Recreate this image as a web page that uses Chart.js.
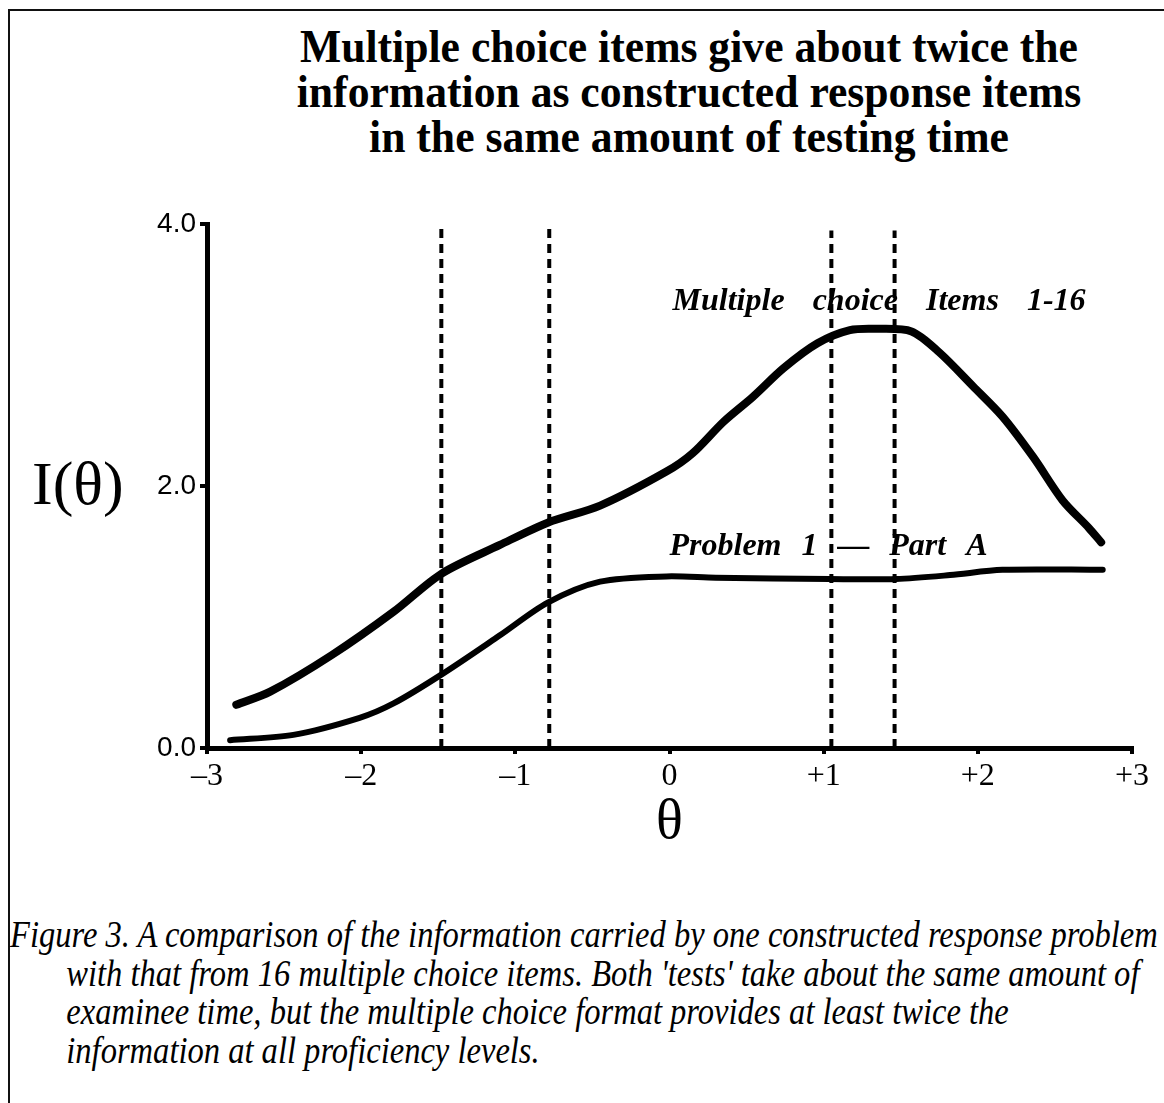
<!DOCTYPE html>
<html lang="en">
<head>
<meta charset="UTF-8">
<title>Information: multiple choice vs constructed response</title>
<script src="https://cdn.jsdelivr.net/npm/chart.js"></script>
<style>
  html, body { margin: 0; padding: 0; background: #fff; }
  body { width: 1164px; height: 1103px; overflow: hidden; position: relative; font-family: "Liberation Serif", "Times New Roman", serif; color: #000; }
  #frame { position: absolute; left: 8px; top: 9px; right: -10px; bottom: -10px; border-top: 2px solid #111; border-left: 2px solid #111; }
  #title { position: absolute; left: 214px; width: 950px; top: 24px; text-align: center; font-weight: bold; font-size: 47px; line-height: 45px; transform-origin: 475px 0; }
  #title span { white-space: nowrap; }
  #chartBox { position: absolute; left: 0; top: 0; width: 1164px; height: 880px; }
  #caption { position: absolute; left: 10px; top: 916px; font-style: italic; font-size: 37px; line-height: 38.5px; white-space: nowrap; transform-origin: 0 0; }
  #caption .indent { padding-left: 64px; }
</style>
</head>
<body>
<div id="frame"></div>
<div id="title">
  <div><span id="titleFirst">Multiple choice items give about twice the</span></div>
  <div>information as constructed response items</div>
  <div>in the same amount of testing time</div>
</div>
<div id="chartBox"><canvas id="chart"></canvas></div>
<div id="caption">
  <div><span id="capFirst">Figure 3. A comparison of the information carried by one constructed response problem</span></div>
  <div class="indent">with that from 16 multiple choice items. Both 'tests' take about the same amount of</div>
  <div class="indent">examinee time, but the multiple choice format provides at least twice the</div>
  <div class="indent">information at all proficiency levels.</div>
</div>

<script>
// multiple choice items 1-16
var thetaMC = [-2.81, -2.59, -2.19, -1.79, -1.48, -1.10, -0.79, -0.45, -0.02, 0.15, 0.35, 0.54, 0.74, 0.96, 1.17, 1.34, 1.57, 1.75, 1.97, 2.16, 2.36, 2.55, 2.72, 2.80];
var infoMC  = [0.33, 0.43, 0.71, 1.04, 1.33, 1.55, 1.72, 1.85, 2.11, 2.25, 2.49, 2.68, 2.90, 3.09, 3.19, 3.20, 3.18, 3.02, 2.76, 2.53, 2.22, 1.89, 1.68, 1.57];

// problem 1 - part A
var thetaCR = [-2.85, -2.44, -2.01, -1.79, -1.48, -1.10, -0.79, -0.45, -0.02, 0.30, 1.04, 1.47, 1.82, 2.16, 2.81];
var infoCR  = [0.06, 0.10, 0.23, 0.34, 0.56, 0.86, 1.11, 1.27, 1.31, 1.30, 1.29, 1.29, 1.32, 1.36, 1.36];

// dashed reference lines
var markerTheta = [-1.48, -0.78, 1.05, 1.46];
var markerTop   = [3.99, 3.99, 3.95, 3.95];

var xTickValues = [-3, -2, -1, 0, 1, 2, 3];
var xTickLabels = ['\u20133', '\u20132', '\u20131', '0', '+1', '+2', '+3'];
var yTickValues = [0, 2, 4];
var yTickLabels = ['0.0', '2.0', '4.0'];

function toPoints(xs, ys) {
    return xs.map(function (v, i) { return { x: v, y: ys[i] }; });
}

var datasets = markerTheta.map(function (t, i) {
    return {
        data: [{ x: t, y: 0 }, { x: t, y: markerTop[i] }],
        borderColor: '#000',
        borderWidth: 4,
        borderDash: [9, 6],
        pointRadius: 0
    };
});
datasets.push({
    data: toPoints(thetaMC, infoMC),
    borderColor: '#000',
    borderWidth: 8,
    tension: 0.3,
    borderCapStyle: 'round',
    borderJoinStyle: 'round',
    pointRadius: 0
});
datasets.push({
    data: toPoints(thetaCR, infoCR),
    borderColor: '#000',
    borderWidth: 6,
    tension: 0.3,
    borderCapStyle: 'round',
    borderJoinStyle: 'round',
    pointRadius: 0
});

function fitText(ctx, text, x, y, width) {
    ctx.wordSpacing = '0px';
    var natural = ctx.measureText(text).width;
    var gaps = text.split(' ').length - 1;
    if (gaps > 0 && natural < width) ctx.wordSpacing = ((width - natural) / gaps) + 'px';
    ctx.fillText(text, x, y);
    ctx.wordSpacing = '0px';
}

var labelPlugin = {
    id: 'curveLabels',
    afterDraw: function (chart) {
        var ctx = chart.ctx, xs = chart.scales.x, ys = chart.scales.y;
        ctx.save();
        ctx.fillStyle = '#000';
        ctx.textBaseline = 'alphabetic';
        ctx.textAlign = 'left';
        ctx.font = 'italic bold 32px "Liberation Serif"';
        fitText(ctx, 'Multiple choice Items 1-16', xs.getPixelForValue(0.02), ys.getPixelForValue(3.34), 413);
        fitText(ctx, 'Problem 1 \u2014 Part A', xs.getPixelForValue(0.0), ys.getPixelForValue(1.47), 318);
        ctx.font = '62px "Liberation Serif"';
        ctx.fillText('I(\u03b8)', 32, ys.getPixelForValue(2) + 18);
        ctx.font = '56px "Liberation Serif"';
        ctx.textAlign = 'center';
        ctx.fillText('\u03b8', xs.getPixelForValue(0), 838);
        ctx.restore();
    }
};

new Chart(document.getElementById('chart'), {
    type: 'line',
    data: { datasets: datasets },
    options: {
        responsive: true,
        maintainAspectRatio: false,
        animation: false,
        layout: { padding: { left: 0, top: 224, right: 32, bottom: 0 } },
        plugins: { legend: { display: false }, tooltip: { enabled: false } },
        scales: {
            x: {
                type: 'linear',
                min: -3,
                max: 3,
                afterFit: function (s) { s.height = 132; },
                afterBuildTicks: function (s) { s.ticks = xTickValues.map(function (v) { return { value: v }; }); },
                border: { display: true, color: '#000', width: 5 },
                grid: { display: true, drawOnChartArea: false, drawTicks: true, tickLength: 6, color: '#000', lineWidth: 4 },
                ticks: {
                    color: '#000',
                    padding: 3,
                    maxRotation: 0,
                    font: { family: '"Liberation Serif"', size: 32 },
                    callback: function (v) { return xTickLabels[xTickValues.indexOf(v)]; }
                }
            },
            y: {
                type: 'linear',
                min: 0,
                max: 4,
                afterFit: function (s) { s.width = 207; },
                afterBuildTicks: function (s) { s.ticks = yTickValues.map(function (v) { return { value: v }; }); },
                border: { display: true, color: '#000', width: 5 },
                grid: { display: true, drawOnChartArea: false, drawTicks: true, tickLength: 7, color: '#000', lineWidth: 4 },
                ticks: {
                    color: '#000',
                    padding: 4,
                    font: { family: '"Liberation Sans"', size: 28 },
                    callback: function (v) { return yTickLabels[yTickValues.indexOf(v)]; }
                }
            }
        }
    },
    plugins: [labelPlugin]
});

// the original uses condensed type; squeeze title and caption to the widths seen there
var title = document.getElementById('title');
title.style.transform = 'scaleX(' + (778 / document.getElementById('titleFirst').offsetWidth) + ')';
var cap = document.getElementById('caption');
cap.style.transform = 'scaleX(' + (1148 / document.getElementById('capFirst').offsetWidth) + ')';
</script>
</body>
</html>
